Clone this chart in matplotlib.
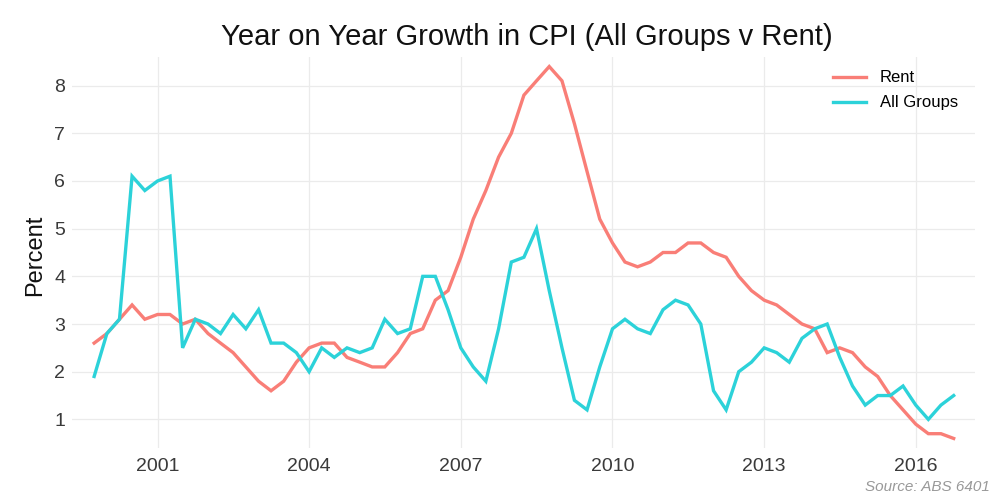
import matplotlib
matplotlib.use("Agg")
import matplotlib.pyplot as plt
import pandas as pd

plt.rcParams['font.family'] = ['Liberation Sans', 'DejaVu Sans']

# quarterly, Dec 1999 .. Dec 2016 (plotted at quarter start)
quarters = pd.date_range(start='1999-10-01', end='2016-10-01', freq='QS')

rent = [2.6, 2.8, 3.1, 3.4, 3.1, 3.2, 3.2, 3.0, 3.1, 2.8, 2.6, 2.4, 2.1, 1.8, 1.6, 1.8, 2.2, 2.5,
        2.6, 2.6, 2.3, 2.2, 2.1, 2.1, 2.4, 2.8, 2.9, 3.5, 3.7, 4.4, 5.2, 5.8, 6.5, 7.0, 7.8, 8.1,
        8.4, 8.1, 7.2, 6.2, 5.2, 4.7, 4.3, 4.2, 4.3, 4.5, 4.5, 4.7, 4.7, 4.5, 4.4, 4.0, 3.7,
        3.5, 3.4, 3.2, 3.0, 2.9, 2.4, 2.5, 2.4, 2.1, 1.9, 1.5, 1.2, 0.9, 0.7, 0.7, 0.6]

all_groups = [1.9, 2.8, 3.1, 6.1, 5.8, 6.0, 6.1, 2.5, 3.1, 3.0, 2.8, 3.2, 2.9, 3.3, 2.6, 2.6, 2.4, 2.0,
              2.5, 2.3, 2.5, 2.4, 2.5, 3.1, 2.8, 2.9, 4.0, 4.0, 3.3, 2.5, 2.1, 1.8, 2.9, 4.3, 4.4, 5.0,
              3.7, 2.5, 1.4, 1.2, 2.1, 2.9, 3.1, 2.9, 2.8, 3.3, 3.5, 3.4, 3.0, 1.6, 1.2, 2.0, 2.2,
              2.5, 2.4, 2.2, 2.7, 2.9, 3.0, 2.3, 1.7, 1.3, 1.5, 1.5, 1.7, 1.3, 1.0, 1.3, 1.5]

year_ticks = ['2001', '2004', '2007', '2010', '2013', '2016']
y_ticks = [1, 2, 3, 4, 5, 6, 7, 8]

fig = plt.figure(figsize=(10, 5), dpi=100)
ax = fig.add_axes([0.072, 0.104, 0.903, 0.782])

ax.plot(quarters, rent, color='#F97E77', lw=2.4, label='Rent', solid_joinstyle='miter')
ax.plot(quarters, all_groups, color='#2CD2D9', lw=2.4, label='All Groups', solid_joinstyle='miter')

ax.set_xlim(pd.Timestamp('1999-04-24'), pd.Timestamp('2017-03-04'))
ax.set_ylim(0.4, 8.6)
ax.set_xticks(pd.to_datetime([y + '-01-01' for y in year_ticks]))
ax.set_xticklabels(year_ticks)
ax.set_yticks(y_ticks)

for s in ax.spines.values():
    s.set_visible(False)
ax.tick_params(length=0, labelsize=14, colors='#3a3a3a')
ax.tick_params(axis='x', pad=7)
ax.tick_params(axis='y', pad=5)
ax.grid(True, color='#EBEBEB', lw=0.9)
ax.set_axisbelow(True)

fig.text(0.527, 1 - 45 / 500, 'Year on Year Growth in CPI (All Groups v Rent)',
         ha='center', va='baseline', fontsize=21, color='#111111')
fig.text(0.0355, 1 - 255 / 500, 'Percent', rotation=90, ha='center', va='center',
         fontsize=17, color='#111111')
fig.text(0.99, 1 - 491 / 500, 'Source: ABS 6401', ha='right', va='baseline',
         fontsize=11, style='italic', color='#999999')

leg = ax.legend(loc='upper right', bbox_to_anchor=(0.998, 1.004), frameon=False,
                fontsize=12, handlelength=2.0, handletextpad=0.85, labelspacing=0.6)

fig.savefig('out.png', dpi=100)
